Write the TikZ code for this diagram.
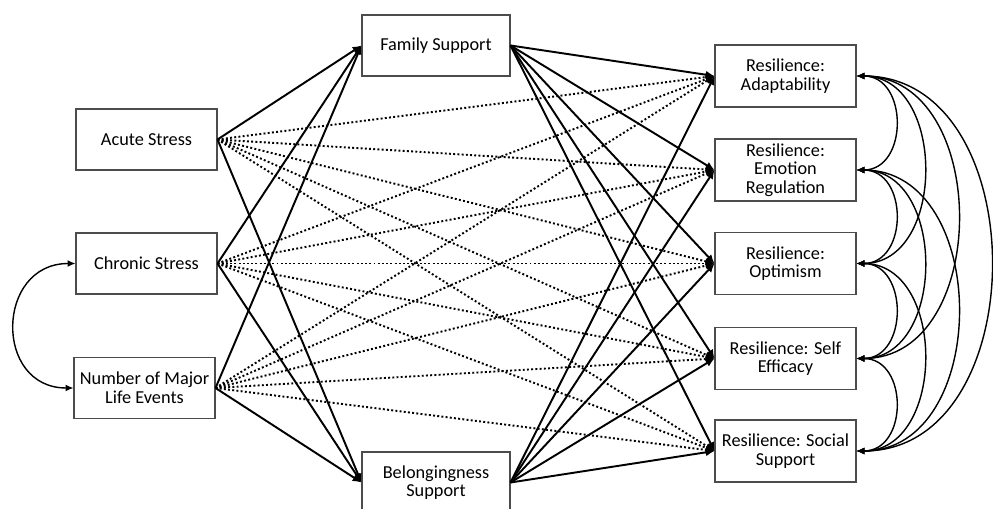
\documentclass[tikz,border=0pt]{standalone}
\usepackage{fontspec}
\setmainfont{Carlito}
\usetikzlibrary{arrows.meta}
\begin{document}
\begin{tikzpicture}[x=0.02cm,y=-0.02cm,
  box/.style={draw=black!70, line width=0.6pt, minimum width=2.82cm, minimum height=1.22cm,
    align=center, inner sep=0pt, font=\fontsize{10.4}{10.6}\selectfont},
  midbox/.style={box, minimum width=2.96cm},
  rbox/.style={box, minimum height=1.24cm},
  solidarr/.style={line width=1.1pt, -{Latex[length=5pt,width=4.5pt]}},
  dotarr/.style={line width=1.1pt, dash pattern=on 1.1pt off 1.3pt, -{Latex[length=5pt,width=4.5pt]}},
  cov/.style={line width=0.8pt, {Latex[length=4.5pt,width=4pt]}-{Latex[length=4.5pt,width=4pt]}}
]
\useasboundingbox (0,0) rectangle (993,509);

\node[box] (acute) at (146.5,139.5) {Acute Stress};
\node[box] (chronic) at (146.5,263.5) {Chronic Stress};
\node[box] (nmle) at (144.5,388) {Number of Major\\Life Events};

\node[midbox] (fam) at (436,45.5) {Family Support};
\node[midbox] (bel) at (436,482.5) {Belongingness\\Support};

\node[rbox] (r1) at (785.5,76) {Resilience:\\Adaptability};
\node[rbox] (r2) at (785.5,170) {Resilience:\\Emotion\\Regulation};
\node[rbox] (r3) at (785.5,263.5) {Resilience:\\Optimism};
\node[rbox] (r4) at (785.5,358.5) {Resilience: Self\\Efficacy};
\node[rbox] (r5) at (785.5,451) {Resilience: Social\\Support};

% dotted: stressors -> resilience
\foreach \s in {acute,chronic,nmle}{
  \foreach \r in {r1,r2,r3,r4,r5}{
    \draw[dotarr] (\s.east) -- (\r.west);
  }
}
% solid: stressors -> support
\foreach \s in {acute,chronic,nmle}{
  \draw[solidarr] (\s.east) -- (fam.west);
  \draw[solidarr] (\s.east) -- (bel.west);
}
% solid: support -> resilience
\foreach \m in {fam,bel}{
  \foreach \r in {r1,r2,r3,r4,r5}{
    \draw[solidarr] (\m.east) -- (\r.west);
  }
}

% covariances
\draw[cov] (chronic.west) .. controls +(-80,0) and +(-80,0) .. (nmle.west);

\draw[cov] (r1.east) .. controls +(52,0) and +(52,0) .. (r2.east);
\draw[cov] (r2.east) .. controls +(52,0) and +(52,0) .. (r3.east);
\draw[cov] (r3.east) .. controls +(52,0) and +(52,0) .. (r4.east);
\draw[cov] (r4.east) .. controls +(52,0) and +(52,0) .. (r5.east);
\draw[cov] (r1.east) .. controls +(90,0) and +(90,0) .. (r3.east);
\draw[cov] (r2.east) .. controls +(90,0) and +(90,0) .. (r4.east);
\draw[cov] (r3.east) .. controls +(90,0) and +(90,0) .. (r5.east);
\draw[cov] (r1.east) .. controls +(135,0) and +(135,0) .. (r4.east);
\draw[cov] (r2.east) .. controls +(135,0) and +(135,0) .. (r5.east);
\draw[cov] (r1.east) .. controls +(179,0) and +(179,0) .. (r5.east);
\end{tikzpicture}
\end{document}
